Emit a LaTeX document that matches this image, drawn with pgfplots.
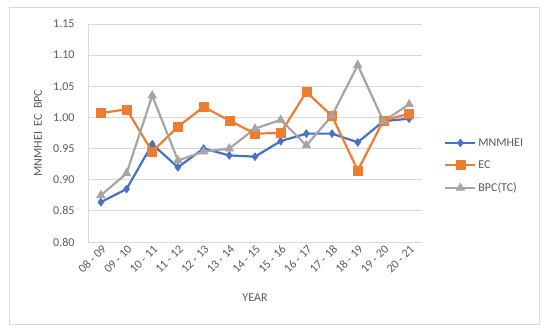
\documentclass[border=0pt]{standalone}
\usepackage{pgfplots}
\pgfplotsset{compat=1.18}
\usepackage{fontspec}
\setmainfont{Carlito}
\definecolor{cblue}{HTML}{4472C4}
\definecolor{corange}{HTML}{ED7D31}
\definecolor{cgray}{HTML}{A5A5A5}
\definecolor{ctext}{HTML}{595959}
\definecolor{cgrid}{HTML}{D9D9D9}
\begin{document}
\begin{tikzpicture}[x=1pt,y=1pt]
\useasboundingbox (0,0) rectangle (550,335);
\draw[cgrid, line width=0.8pt] (9,11) rectangle (539,328);
\begin{axis}[
  at={(88pt,93pt)}, anchor=south west,
  scale only axis, width=334pt, height=218pt,
  xmin=-0.5, xmax=12.5, ymin=0.80, ymax=1.15,
  xtick={0,...,12},
  xticklabels={08 - 09,09 - 10,10 - 11,11 - 12,12 - 13,13 - 14,14 - 15,15 - 16,16 - 17,17 - 18,18 - 19,19 - 20,20 - 21},
  ytick={0.80,0.85,...,1.16},
  /pgf/number format/fixed, /pgf/number format/fixed zerofill,
  /pgf/number format/precision=2, /pgf/number format/assume math mode=true,
  axis x line*=bottom, axis y line*=left,
  axis line style={cgrid, line width=0.8pt, -},
  major tick length=0pt,
  ymajorgrids, grid style={cgrid, line width=0.8pt},
  tick label style={font=\fontsize{12}{14}\selectfont, text=ctext},
  yticklabel style={xshift=-10pt},
  xticklabel style={rotate=45, anchor=east, yshift=-6pt, xshift=2pt},
  xlabel={YEAR}, ylabel={MNMHEI~~EC~~BPC},
  label style={font=\fontsize{12}{14}\selectfont, text=ctext},
  xlabel style={at={(axis description cs:0.5,-0.257)}, anchor=center},
  ylabel style={at={(axis description cs:-0.15,0.5)}, anchor=center},
  legend style={draw=none, fill=none, at={(rel axis cs:1.057,0.35)}, anchor=west,
    font=\fontsize{12}{14}\selectfont, text=ctext, row sep=9pt,
    /tikz/every even column/.append style={column sep=2pt}},
  legend cell align=left,
  legend image code/.code={\draw[mark repeat=2,mark phase=2,#1] plot coordinates {(0pt,0pt) (15pt,0pt) (30pt,0pt)};},
  every axis plot/.append style={line width=2.2pt},
]
\addplot[cblue, mark=diamond*, mark size=4pt, mark options={solid, line width=0.5pt}] coordinates {
(0,0.864)(1,0.885)(2,0.957)(3,0.920)(4,0.950)(5,0.939)(6,0.937)(7,0.962)(8,0.974)(9,0.974)(10,0.960)(11,0.994)(12,0.998)};
\addlegendentry{MNMHEI}
\addplot[corange, mark=square*, mark size=4.5pt, mark options={solid, line width=0.5pt}] coordinates {
(0,1.007)(1,1.013)(2,0.945)(3,0.985)(4,1.017)(5,0.995)(6,0.974)(7,0.975)(8,1.041)(9,1.002)(10,0.915)(11,0.995)(12,1.006)};
\addlegendentry{EC}
\addplot[cgray, mark=triangle*, mark size=5pt, mark options={solid, line width=0.5pt}] coordinates {
(0,0.875)(1,0.910)(2,1.035)(3,0.931)(4,0.945)(5,0.950)(6,0.982)(7,0.996)(8,0.955)(9,1.003)(10,1.084)(11,0.994)(12,1.021)};
\addlegendentry{BPC(TC)}
\end{axis}
\end{tikzpicture}
\end{document}
